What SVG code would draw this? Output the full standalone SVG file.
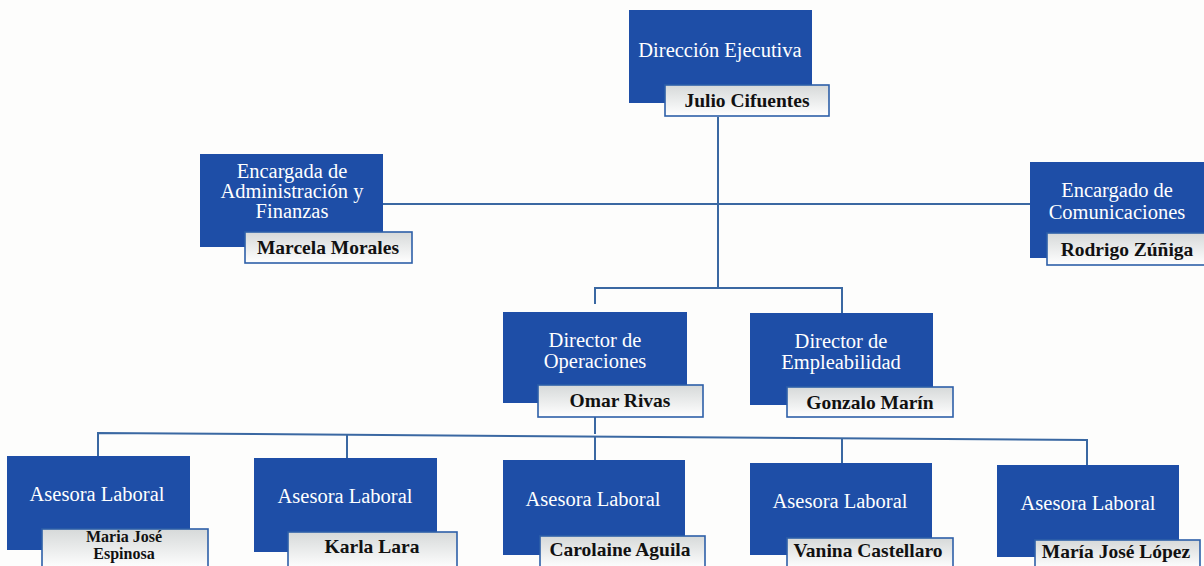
<svg xmlns="http://www.w3.org/2000/svg" width="1204" height="566" viewBox="0 0 1204 566">
<defs>
<linearGradient id="lg" x1="0" y1="0" x2="0" y2="1">
<stop offset="0" stop-color="#d6d9d9"/>
<stop offset="1" stop-color="#ffffff"/>
</linearGradient>
<style>
.box{fill:#1e4ea7;}
.lab{fill:url(#lg);stroke:#2d5fa8;stroke-width:1.6;}
.t{font-family:"Liberation Serif","Times New Roman",serif;font-size:20.5px;fill:#ffffff;text-anchor:middle;}
.n{font-family:"Liberation Serif","Times New Roman",serif;font-size:19.5px;font-weight:bold;fill:#111111;text-anchor:middle;}
.s{font-size:16px;}
.c{fill:none;stroke:#3a68a2;stroke-width:2;}
</style>
</defs>
<rect width="1204" height="566" fill="#fdfdfc"/>
<g id="connectors">
<path class="c" d="M718 117 V288"/>
<path class="c" d="M383 204 H1030"/>
<path class="c" d="M595 304 V288 H842 V313"/>
<path class="c" d="M595 417 V434"/>
<path class="c" d="M98 456 V433 L1087 440 V465"/>
<path class="c" d="M347 434.5 V458"/>
<path class="c" d="M595 436.5 V460"/>
<path class="c" d="M842 438.5 V463"/>
</g>
<g id="n-direccion">
<rect class="box" x="629" y="10" width="183" height="93"/>
<text class="t" x="720" y="57">Dirección Ejecutiva</text>
<rect class="lab" x="665" y="85" width="164" height="31"/>
<text class="n" x="747" y="107">Julio Cifuentes</text>
</g>
<g id="n-admin">
<rect class="box" x="200" y="154" width="183" height="93"/>
<text class="t" x="292" y="178">Encargada de</text>
<text class="t" x="292" y="198">Administración y</text>
<text class="t" x="292" y="218">Finanzas</text>
<rect class="lab" x="245" y="232" width="167" height="31"/>
<text class="n" x="328" y="254">Marcela Morales</text>
</g>
<g id="n-comunicaciones">
<rect class="box" x="1030" y="162" width="174" height="96"/>
<text class="t" x="1117" y="197">Encargado  de</text>
<text class="t" x="1117" y="219">Comunicaciones</text>
<rect class="lab" x="1047" y="233" width="160" height="32"/>
<text class="n" x="1127" y="256">Rodrigo Zúñiga</text>
</g>
<g id="n-operaciones">
<rect class="box" x="503" y="312" width="184" height="91"/>
<text class="t" x="595" y="347">Director de</text>
<text class="t" x="595" y="368">Operaciones</text>
<rect class="lab" x="538" y="385" width="165" height="32"/>
<text class="n" x="620" y="407">Omar Rivas</text>
</g>
<g id="n-empleabilidad">
<rect class="box" x="750" y="313" width="183" height="92"/>
<text class="t" x="841" y="348">Director de</text>
<text class="t" x="841" y="369">Empleabilidad</text>
<rect class="lab" x="787" y="387" width="166" height="30"/>
<text class="n" x="870" y="409">Gonzalo Marín</text>
</g>
<g id="n-asesora1">
<rect class="box" x="7" y="456" width="183" height="94"/>
<text class="t" x="97" y="501">Asesora Laboral</text>
<rect class="lab" x="42" y="529" width="166" height="40"/>
<text class="n s" x="124" y="542">Maria José</text>
<text class="n s" x="124" y="559">Espinosa</text>
</g>
<g id="n-asesora2">
<rect class="box" x="254" y="458" width="183" height="94"/>
<text class="t" x="345" y="503">Asesora Laboral</text>
<rect class="lab" x="288" y="532" width="169" height="37"/>
<text class="n" x="372" y="553">Karla Lara</text>
</g>
<g id="n-asesora3">
<rect class="box" x="503" y="460" width="182" height="95"/>
<text class="t" x="593" y="506">Asesora Laboral</text>
<rect class="lab" x="540" y="536" width="165" height="33"/>
<text class="n" x="620" y="556">Carolaine Aguila</text>
</g>
<g id="n-asesora4">
<rect class="box" x="750" y="463" width="182" height="92"/>
<text class="t" x="840" y="508">Asesora Laboral</text>
<rect class="lab" x="787" y="538" width="166" height="31"/>
<text class="n" x="868" y="557">Vanina Castellaro</text>
</g>
<g id="n-asesora5">
<rect class="box" x="997" y="465" width="182" height="92"/>
<text class="t" x="1088" y="510">Asesora Laboral</text>
<rect class="lab" x="1035" y="540" width="165" height="29"/>
<text class="n" x="1116" y="558">María José López</text>
</g>
</svg>
